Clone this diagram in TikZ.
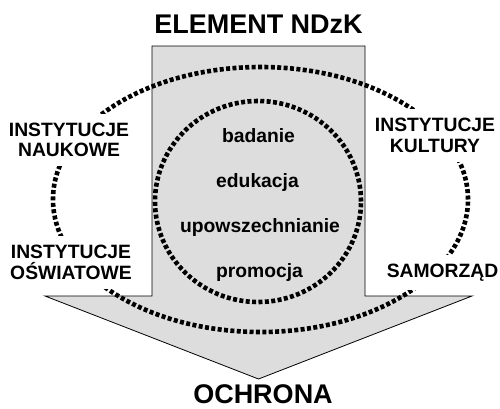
\documentclass[tikz,border=0pt]{standalone}
\usepackage{fontspec}
\setmainfont{Liberation Sans}
\usepackage{tikz}
\pgfdeclarelayer{edgelayer}
\pgfdeclarelayer{nodelayer}
\pgfsetlayers{edgelayer,nodelayer,main}
\tikzstyle{none}=[inner sep=0pt]
\tikzstyle{dotring}=[line width=4.6pt, dash pattern=on 4pt off 2.4pt]
\tikzstyle{instbox}=[fill=white, inner sep=9pt, align=center, font=\bfseries\fontsize{19.3}{20.5}\selectfont]
\tikzstyle{task}=[inner sep=0pt, anchor=base, font=\bfseries\fontsize{19.3}{20.5}\selectfont]
\tikzstyle{headline}=[inner sep=0pt, anchor=base, font=\bfseries\fontsize{27}{30}\selectfont]
\definecolor{arrowgray}{RGB}{221,221,221}

\begin{document}
\begin{tikzpicture}[x=1pt,y=-1pt]
	\useasboundingbox (0,0) rectangle (500,408);
	\begin{pgfonlayer}{nodelayer}
		\node [style=none] (0) at (152,46) {};
		\node [style=none] (1) at (365,46) {};
		\node [style=none] (2) at (365,296) {};
		\node [style=none] (3) at (472,296) {};
		\node [style=none] (4) at (258.5,379) {};
		\node [style=none] (5) at (45,296) {};
		\node [style=none] (6) at (152,296) {};
		\node [style=none] (7) at (260.5,199.5) {};
		\node [style=none] (8) at (258,201.5) {};
		\node [headline] (9) at (258.5,33) {ELEMENT NDzK};
		\node [headline] (10) at (263,403.5) {OCHRONA};
		\node [task] (11) at (258.5,142) {badanie};
		\node [task] (12) at (257.5,187) {edukacja};
		\node [task] (13) at (260,232) {upowszechnianie};
		\node [task] (14) at (259.5,277) {promocja};
		\node [instbox] (15) at (69,140) {INSTYTUCJE\\NAUKOWE};
		\node [instbox] (16) at (71,262.5) {INSTYTUCJE\\OŚWIATOWE};
		\node [instbox] (17) at (435,135.5) {INSTYTUCJE\\KULTURY};
		\node [instbox, anchor=base] (18) at (442.5,277) {SAMORZĄD};
	\end{pgfonlayer}
	\begin{pgfonlayer}{edgelayer}
		\draw [fill=arrowgray, line width=0.8pt] (0.center) -- (1.center) -- (2.center) -- (3.center) -- (4.center) -- (5.center) -- (6.center) -- cycle;
		\draw [dotring] (7.center) ellipse [x radius=207.5pt, y radius=132.5pt];
		\draw [dotring] (8.center) ellipse [x radius=103pt, y radius=100.5pt];
	\end{pgfonlayer}
\end{tikzpicture}
\end{document}
